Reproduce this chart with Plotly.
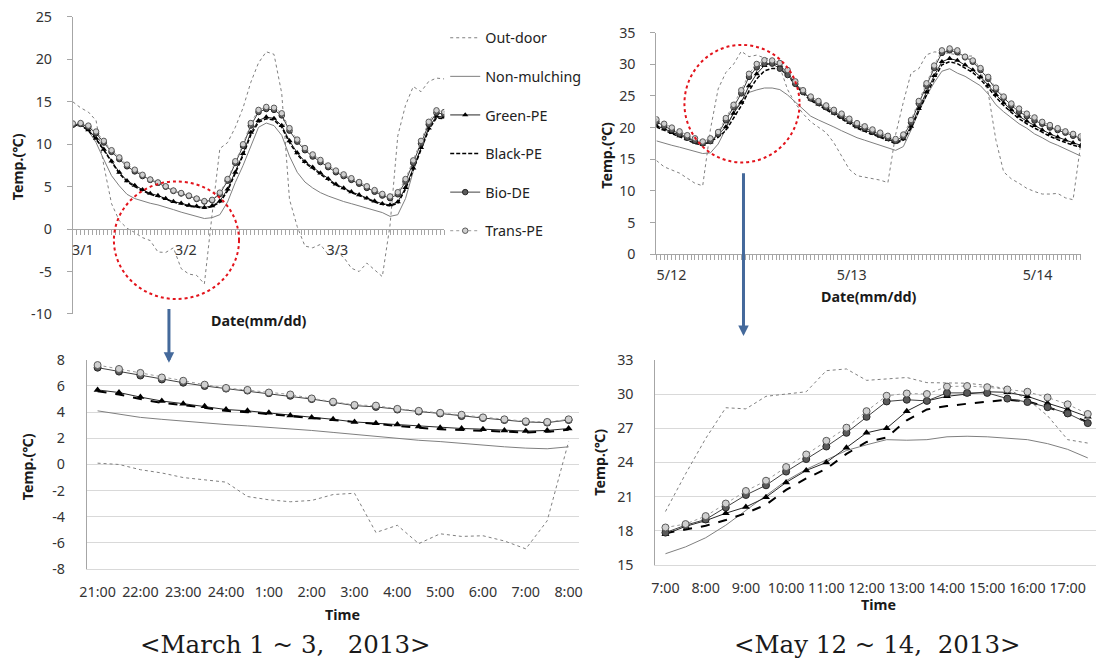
import plotly.graph_objects as go

# Measured mapping from figure pixels to picture pixels (body margin removed):
# picture_x = A_X + S_X * fig_x ; picture_y = A_Y + S_Y * fig_y
A_X, S_X = 6.2, 0.99
A_Y, S_Y = 8.0, 0.975
FIG_W, FIG_H = 1102, 672


def fx(r):
    return (r - A_X) / S_X


def fy(r):
    return (r - A_Y) / S_Y


def px(r):
    """picture x (reference pixels) -> paper fraction"""
    return fx(r) / FIG_W


def py(r):
    """picture y (reference pixels) -> paper fraction"""
    return 1 - fy(r) / FIG_H


SERIES = ["Out-door", "Non-mulching", "Green-PE", "Black-PE", "Bio-DE", "Trans-PE"]

# ---------------- Top-left: March 1-3, hourly from 3/1 14:00 ----------------
tl_hours = list(range(49))
tl_outdoor = [15.0, 14.3, 13.8, 12.8, 7.5, 3.0, 1.0, 0.1, -0.4, -1.0, -1.35, -2.7, -2.75, -2.2,
              -4.65, -5.3, -5.45, -6.45, 1.75, 9.5, 10.2, 12.0, 14.3, 17.3, 19.6, 20.9, 20.6,
              16.0, 3.5, 0.3, -2.0, -2.2, -1.8, -3.0, -2.7, -3.3, -4.6, -5.0, -4.0, -4.8, -5.6,
              0.5, 11.0, 14.6, 16.8, 16.2, 17.4, 17.8, 17.7]
tl_nonmulch = [12.2, 12.3, 11.6, 10.2, 8.2, 6.3, 5.1, 4.1, 3.6, 3.3, 3.05, 2.85, 2.6, 2.3, 2.0,
               1.75, 1.5, 1.25, 1.35, 1.7, 3.2, 5.5, 7.5, 9.8, 12.0, 12.5, 12.2, 11.05, 8.6, 6.7,
               5.55, 4.85, 4.3, 3.9, 3.55, 3.25, 3.0, 2.75, 2.5, 2.25, 1.95, 1.5, 1.7, 3.6, 6.8,
               9.6, 11.9, 13.35, 13.1]
tl_green = [12.25, 12.3, 11.7, 10.7, 9.4, 8.0, 6.7, 5.7, 5.15, 4.65, 4.2, 3.95, 3.6, 3.25, 3.05,
            2.8, 2.7, 2.55, 2.75, 3.3, 4.7, 6.7, 8.9, 11.4, 12.8, 13.2, 13.05, 12.2, 10.4, 9.0,
            7.95, 7.3, 6.6, 5.95, 5.3, 4.85, 4.4, 4.05, 3.65, 3.3, 3.0, 2.85, 3.2, 4.9, 7.2, 9.6,
            11.9, 13.3, 13.2]
tl_black = [12.2, 12.25, 11.6, 10.6, 9.3, 7.85, 6.55, 5.6, 5.0, 4.55, 4.1, 3.85, 3.5, 3.2, 2.95,
            2.7, 2.6, 2.45, 2.65, 3.15, 4.5, 6.5, 8.7, 11.1, 12.6, 13.0, 12.85, 12.0, 10.2, 8.8,
            7.8, 7.15, 6.45, 5.8, 5.2, 4.75, 4.3, 3.95, 3.55, 3.2, 2.9, 2.75, 3.05, 4.7, 7.0, 9.4,
            11.7, 13.1, 13.0]
tl_bio = [12.3, 12.4, 12.05, 11.3, 10.2, 9.1, 8.25, 7.4, 6.8, 6.25, 5.8, 5.45, 5.0, 4.5, 4.2,
          3.9, 3.55, 3.25, 3.4, 4.15, 5.7, 7.8, 9.8, 12.2, 13.8, 14.15, 14.05, 13.4, 11.6, 10.3,
          9.3, 8.55, 7.9, 7.3, 6.7, 6.25, 5.8, 5.35, 4.85, 4.4, 3.95, 3.65, 4.1, 5.6, 7.8, 10.1,
          12.35, 13.7, 13.55]
tl_trans = [12.45, 12.5, 12.2, 11.5, 10.4, 9.3, 8.45, 7.6, 7.0, 6.4, 5.85, 5.5, 5.05, 4.55, 4.25,
            3.95, 3.6, 3.3, 3.45, 4.3, 5.9, 8.0, 10.0, 12.5, 14.05, 14.4, 14.3, 13.65, 11.9, 10.55,
            9.55, 8.8, 8.15, 7.5, 6.9, 6.45, 6.0, 5.55, 5.05, 4.6, 4.15, 3.85, 4.35, 5.9, 8.1, 10.4,
            12.65, 14.0, 13.8]
tl_tick_pos = [1.3, 14.6, 34.2]
tl_tick_text = ["3/1", "3/2", "3/3"]
tl_ytick_vals = [-10, -5, 0, 5, 10, 15, 20, 25]
tl_ytick_text = ["-10", "-5", "0", "5", "10", "15", "20", "25"]

# ---------------- Top-right: May 12-14, hourly from 5/12 00:00 ----------------
tr_hours = list(range(56))
tr_outdoor = [14.8, 13.8, 13.3, 12.8, 12.0, 11.2, 10.8, 19.7, 26.1, 28.7, 30.0, 32.05, 31.2, 31.45,
              31.0, 30.75, 29.55, 26.0, 23.8, 22.2, 20.9, 20.1, 19.2, 17.6, 15.4, 13.4, 12.4, 12.2,
              12.0, 11.7, 11.3, 18.9, 24.0, 28.6, 29.3, 31.5, 31.95, 31.9, 31.7, 31.5, 31.3, 31.3,
              29.0, 25.5, 18.0, 13.0, 11.9, 11.2, 10.4, 9.9, 9.5, 9.5, 9.6, 8.9, 8.6, 17.5]
tr_nonmulch = [17.9, 17.5, 17.2, 16.9, 16.6, 16.3, 15.9, 16.0, 17.4, 19.8, 22.4, 24.2, 25.55, 25.95,
               26.25, 26.25, 26.0, 25.15, 24.0, 22.8, 21.8, 21.2, 20.7, 20.1, 19.5, 18.9, 18.4, 18.0,
               17.6, 17.2, 16.9, 16.4, 17.0, 19.6, 22.5, 25.0, 27.1, 28.9, 29.3, 28.6, 28.1, 27.4,
               26.6, 25.3, 23.6, 22.5, 21.5, 20.6, 19.9, 19.0, 18.4, 17.7, 17.2, 16.6, 16.0, 15.5]
tr_green = [20.3, 19.8, 19.2, 18.7, 18.2, 17.7, 17.3, 17.7, 18.9, 20.1, 22.25, 24.0, 26.6, 28.5,
            29.8, 30.2, 29.8, 28.65, 27.0, 25.6, 24.5, 23.7, 23.0, 22.3, 21.6, 20.8, 20.1, 19.6,
            19.1, 18.6, 18.1, 17.7, 18.2, 20.2, 23.0, 25.6, 28.2, 30.4, 30.9, 30.6, 29.9, 29.1,
            28.0, 26.7, 25.2, 23.9, 22.8, 21.8, 21.0, 20.3, 19.6, 19.0, 18.5, 18.0, 17.6, 17.2]
tr_black = [20.1, 19.6, 19.0, 18.5, 18.0, 17.5, 17.2, 17.8, 18.45, 19.55, 21.6, 23.45, 25.8, 27.7,
            28.95, 29.35, 29.35, 28.25, 26.8, 25.4, 24.3, 23.5, 22.8, 22.1, 21.4, 20.6, 19.9, 19.4,
            18.9, 18.4, 17.9, 17.5, 18.0, 19.9, 22.6, 25.2, 27.7, 29.9, 30.4, 30.1, 29.4, 28.7,
            27.6, 26.3, 24.8, 23.5, 22.4, 21.4, 20.6, 19.9, 19.2, 18.6, 18.1, 17.6, 17.2, 16.9]
tr_bio = [20.9, 20.2, 19.6, 19.0, 18.4, 17.9, 17.5, 17.85, 19.0, 21.15, 23.2, 25.4, 28.0, 29.5,
          30.1, 30.1, 29.3, 28.3, 26.9, 25.6, 24.6, 23.9, 23.2, 22.5, 21.9, 21.1, 20.4, 19.9, 19.4,
          18.9, 18.4, 17.9, 18.6, 20.8, 23.8, 26.6, 29.4, 31.8, 32.2, 31.9, 31.1, 30.4, 29.1, 27.7,
          26.0, 24.7, 23.5, 22.5, 21.8, 21.1, 20.6, 20.0, 19.6, 19.2, 18.7, 18.3]
tr_trans = [21.3, 20.6, 20.0, 19.4, 18.8, 18.3, 17.8, 18.3, 19.3, 21.5, 23.6, 25.9, 28.5, 30.05,
            30.65, 30.6, 30.2, 29.1, 27.3, 25.9, 24.9, 24.2, 23.5, 22.8, 22.2, 21.4, 20.7, 20.2,
            19.7, 19.2, 18.7, 18.2, 18.9, 21.2, 24.2, 27.0, 29.8, 32.2, 32.5, 32.2, 31.2, 30.6,
            29.4, 28.0, 26.3, 24.9, 23.8, 23.0, 22.2, 21.6, 20.9, 20.4, 19.9, 19.4, 19.0, 18.6]
tr_tick_pos = [1.95, 25.3, 49.4]
tr_tick_text = ["5/12", "5/13", "5/14"]

# ---------------- Bottom-left: 21:00 - 8:00 (30 min) ----------------
bl_times = ["21:00", "21:30", "22:00", "22:30", "23:00", "23:30", "24:00", "0:30", "1:00", "1:30",
            "2:00", "2:30", "3:00", "3:30", "4:00", "4:30", "5:00", "5:30", "6:00", "6:30", "7:00",
            "7:30", "8:00"]
bl_outdoor = [0.1, 0.0, -0.4, -0.65, -1.0, -1.2, -1.35, -2.45, -2.7, -2.85, -2.75, -2.3, -2.2, -5.2,
              -4.65, -6.05, -5.3, -5.5, -5.45, -5.85, -6.45, -4.3, 1.75]
bl_nonmulch = [4.1, 3.85, 3.6, 3.45, 3.3, 3.2, 3.05, 2.95, 2.85, 2.7, 2.6, 2.45, 2.3, 2.1, 2.0, 1.85,
               1.75, 1.6, 1.5, 1.35, 1.25, 1.2, 1.35]
bl_green = [5.7, 5.5, 5.15, 4.85, 4.65, 4.45, 4.2, 4.1, 3.95, 3.75, 3.6, 3.45, 3.25, 3.15, 3.05, 2.9,
            2.8, 2.75, 2.7, 2.6, 2.55, 2.6, 2.75]
bl_black = [5.6, 5.35, 5.0, 4.7, 4.55, 4.35, 4.1, 4.0, 3.85, 3.65, 3.5, 3.35, 3.2, 3.05, 2.95, 2.8,
            2.7, 2.65, 2.6, 2.5, 2.45, 2.5, 2.65]
bl_bio = [7.4, 7.1, 6.8, 6.5, 6.25, 6.0, 5.8, 5.65, 5.45, 5.25, 5.0, 4.75, 4.5, 4.4, 4.2, 4.05, 3.9,
          3.7, 3.55, 3.4, 3.25, 3.2, 3.4]
bl_trans = [7.6, 7.3, 7.0, 6.65, 6.4, 6.1, 5.85, 5.7, 5.5, 5.35, 5.05, 4.8, 4.55, 4.5, 4.25, 4.1,
            3.95, 3.8, 3.6, 3.45, 3.3, 3.25, 3.45]
bl_ytick_vals = [-8, -6, -4, -2, 0, 2, 4, 6, 8]
bl_ytick_text = ["-8", "-6", "-4", "-2", "0", "2", "4", "6", "8"]

# ---------------- Bottom-right: 7:00 - 17:30 (30 min) ----------------
br_times = ["7:00", "7:30", "8:00", "8:30", "9:00", "9:30", "10:00", "10:30", "11:00", "11:30",
            "12:00", "12:30", "13:00", "13:30", "14:00", "14:30", "15:00", "15:30", "16:00", "16:30",
            "17:00", "17:30"]
br_outdoor = [19.7, 23.0, 26.1, 28.8, 28.7, 29.8, 30.0, 30.2, 32.05, 32.2, 31.2, 31.3, 31.45, 31.0,
              31.0, 30.95, 30.75, 30.45, 29.55, 28.1, 26.0, 25.7]
br_nonmulch = [16.0, 16.6, 17.4, 18.5, 19.8, 21.1, 22.4, 23.4, 24.2, 25.05, 25.55, 26.0, 25.95, 26.0,
               26.25, 26.3, 26.25, 26.15, 26.0, 25.65, 25.15, 24.4]
br_green = [17.7, 18.4, 18.9, 19.55, 20.1, 20.95, 22.25, 23.3, 24.0, 25.3, 26.6, 27.0, 28.5, 29.4,
            29.8, 30.0, 30.2, 30.15, 29.8, 29.2, 28.65, 28.0]
br_black = [17.8, 18.15, 18.45, 18.95, 19.55, 20.3, 21.6, 22.6, 23.45, 24.75, 25.8, 26.2, 27.7, 28.65,
            28.95, 29.15, 29.35, 29.5, 29.35, 28.85, 28.25, 27.55]
br_bio = [17.85, 18.5, 19.0, 20.05, 21.15, 22.0, 23.2, 24.3, 25.4, 26.6, 28.0, 29.35, 29.5, 29.4,
          30.1, 30.1, 30.1, 29.6, 29.3, 28.85, 28.3, 27.45]
br_trans = [18.3, 18.6, 19.3, 20.4, 21.5, 22.4, 23.6, 24.7, 25.9, 27.05, 28.5, 29.85, 30.05, 30.0,
            30.65, 30.7, 30.6, 30.4, 30.2, 29.7, 29.1, 28.25]

captions = ["&lt;March 1 ~ 3,&nbsp;&nbsp;&nbsp;2013&gt;",
            "&lt;May 12 ~ 14,&nbsp;&nbsp;2013&gt;"]

# ---------------- styles ----------------
AX = "#a6a6a6"
TXT = "#333333"
FONT = "Noto Sans, DejaVu Sans, sans-serif"
FS = 14.3


def style(name, big):
    ms = 7 if big else 5.5
    if name == "Out-door":
        return dict(mode="lines", line=dict(color="#7f7f7f", width=1, dash="dot"))
    if name == "Non-mulching":
        return dict(mode="lines", line=dict(color="#7f7f7f", width=1))
    if name == "Green-PE":
        return dict(mode="lines+markers", line=dict(color="#262626", width=1),
                    marker=dict(symbol="triangle-up", size=ms, color="#000000"))
    if name == "Black-PE":
        return dict(mode="lines", line=dict(color="#000000", width=2 if big else 1.5,
                                            dash="dash" if big else "4px,2px"))
    if name == "Bio-DE":
        return dict(mode="lines+markers", line=dict(color="#404040", width=1),
                    marker=dict(symbol="circle", size=ms, color="#5a5a5a",
                                line=dict(color="#262626", width=1)))
    return dict(mode="lines+markers", line=dict(color="#9a9a9a", width=1, dash="dot"),
                marker=dict(symbol="circle", size=ms, color="#d0d0d0",
                            line=dict(color="#595959", width=1)))


fig = go.Figure()

panels = [
    ("x", "y", tl_hours, [tl_outdoor, tl_nonmulch, tl_green, tl_black, tl_bio, tl_trans], False, True),
    ("x2", "y2", tr_hours, [tr_outdoor, tr_nonmulch, tr_green, tr_black, tr_bio, tr_trans], False, False),
    ("x3", "y3", list(range(len(bl_times))), [bl_outdoor, bl_nonmulch, bl_green, bl_black, bl_bio, bl_trans], True, False),
    ("x4", "y4", list(range(len(br_times))), [br_outdoor, br_nonmulch, br_green, br_black, br_bio, br_trans], True, False),
]
for xa, ya, xs, ys_list, big, legend in panels:
    for name, ys in zip(SERIES, ys_list):
        kw = style(name, big)
        fig.add_trace(go.Scatter(x=xs, y=ys, name=name, xaxis=xa, yaxis=ya,
                                 showlegend=legend, legendgroup=name if legend else None, **kw))

common_top_y = dict(showline=True, linecolor=AX, linewidth=1, ticks="outside", ticklen=5,
                    tickcolor=AX, showgrid=False, zeroline=False, tickfont=dict(size=FS, color=TXT),
                    ticklabelstandoff=12)
common_top_x = dict(showline=True, linecolor=AX, linewidth=1, ticks="", showgrid=False,
                    zeroline=False, tickmode="array", tickfont=dict(size=FS, color=TXT),
                    ticklabelstandoff=8,
                    minor=dict(ticks="outside", ticklen=5, tickcolor=AX, dtick=0.5, tick0=0,
                               showgrid=False))
common_bot_y = dict(showline=True, linecolor=AX, linewidth=1, ticks="", showgrid=True,
                    gridcolor="#d9d9d9", gridwidth=1, zeroline=False,
                    tickfont=dict(size=FS, color=TXT), ticklabelstandoff=18)
common_bot_x = dict(showline=True, linecolor="#d9d9d9", linewidth=1, ticks="", showgrid=False,
                    zeroline=False, tickmode="array", tickfont=dict(size=FS, color=TXT),
                    ticklabelstandoff=10)

fig.update_layout(
    xaxis=dict(domain=[px(72), px(443)], range=[0, 48], anchor="free", position=py(228),
               tickvals=tl_tick_pos, ticktext=tl_tick_text, **common_top_x),
    yaxis=dict(domain=[py(313), py(15)], range=[-10, 25], tickmode="array", tickvals=tl_ytick_vals,
               ticktext=tl_ytick_text, anchor="x", **common_top_y),
    xaxis2=dict(domain=[px(655), px(1079)], range=[0, 55], anchor="y2",
                tickvals=tr_tick_pos, ticktext=tr_tick_text, **common_top_x),
    yaxis2=dict(domain=[py(253), py(30.7)], range=[0, 35], dtick=5, tick0=0, anchor="x2", **common_top_y),
    xaxis3=dict(domain=[px(86), px(578)], range=[-0.5, len(bl_times) - 0.5], anchor="y3",
                tickvals=list(range(0, len(bl_times), 2)), ticktext=bl_times[::2], **common_bot_x),
    yaxis3=dict(domain=[py(569), py(359)], range=[-8, 8], tickmode="array", tickvals=bl_ytick_vals,
                ticktext=bl_ytick_text, anchor="x3", **common_bot_y),
    xaxis4=dict(domain=[px(654), min(1.0, px(1096))], range=[-0.5, len(br_times) - 0.5], anchor="y4",
                tickvals=list(range(0, len(br_times), 2)), ticktext=br_times[::2], **common_bot_x),
    yaxis4=dict(domain=[py(565), py(359)], range=[15, 33], dtick=3, tick0=15, anchor="x4", **common_bot_y),
)

ann = []
bold = dict(family=FONT, size=FS, color="#1a1a1a")
for (x, y) in [(17, 165), (605, 154), (27, 466), (598, 462)]:
    ann.append(dict(x=px(x), y=py(y), xref="paper", yref="paper", text="<b>Temp.(℃)</b>",
                    textangle=-90, showarrow=False, font=bold, xanchor="center", yanchor="middle"))
for (x, y, t) in [(257, 320, "Date(mm/dd)"), (867, 295, "Date(mm/dd)"), (341, 615, "Time"), (877, 605, "Time")]:
    ann.append(dict(x=px(x), y=py(y), xref="paper", yref="paper", text="<b>%s</b>" % t,
                    showarrow=False, font=bold, xanchor="center", yanchor="middle"))
for (x, y), t in zip([(284, 645), (876, 645)], captions):
    ann.append(dict(x=px(x), y=py(y), xref="paper", yref="paper", text=t, showarrow=False,
                    font=dict(family="DejaVu Serif, serif", size=24.5, color="#1a1a1a"),
                    xanchor="center", yanchor="middle"))
# blue arrows
for (x, y0, y1) in [(168, 308, 362), (742, 175, 335)]:
    ann.append(dict(x=px(x), y=py(y1), xref="paper", yref="paper", ax=0, ay=-(y1 - y0) / S_Y,
                    showarrow=True, arrowhead=2, arrowsize=0.7, arrowwidth=3, arrowcolor="#44699b",
                    text=""))

shapes = []
for (x0, y0, x1, y1) in [(113, 180, 238, 298), (683, 43, 798, 161)]:
    shapes.append(dict(type="circle", xref="paper", yref="paper", x0=px(x0), x1=px(x1),
                       y0=py(y1), y1=py(y0), line=dict(color="#e3141c", width=2, dash="dot")))

fig.update_layout(
    width=FIG_W, height=FIG_H, autosize=False,
    margin=dict(l=0, r=0, t=0, b=0, pad=0),
    paper_bgcolor="white", plot_bgcolor="white",
    font=dict(family=FONT, size=13, color=TXT),
    annotations=ann, shapes=shapes,
    legend=dict(x=px(444), y=py(20), xanchor="left", yanchor="top", traceorder="grouped",
                tracegroupgap=17, itemwidth=30, font=dict(size=FS, color="#222222"),
                bgcolor="rgba(0,0,0,0)"),
)

fig.write_html("out.html", config={"displayModeBar": False},
               post_script="document.body.style.margin='0';")
